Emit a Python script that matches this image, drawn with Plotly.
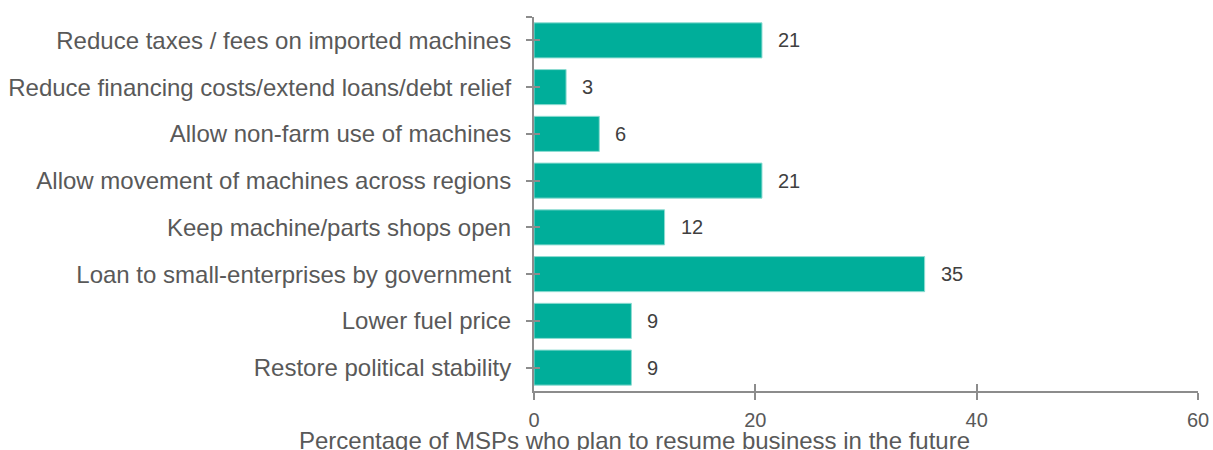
import plotly.graph_objects as go

# Policy measures, top to bottom, and the share of MSPs naming each (%)
categories = [
    "Reduce taxes / fees on imported machines",
    "Reduce financing costs/extend loans/debt relief",
    "Allow non-farm use of machines",
    "Allow movement of machines across regions",
    "Keep machine/parts shops open",
    "Loan to small-enterprises by government",
    "Lower fuel price",
    "Restore political stability",
]
percentages = [20.6, 2.9, 5.9, 20.6, 11.8, 35.3, 8.8, 8.8]
x_ticks = [0, 20, 40, 60]
x_title = "Percentage of MSPs who plan to resume business in the future"

BAR = "#00AE9A"
AXIS = "#8c8c8c"
TEXT = "#595959"
FONT = "Liberation Sans, Arial, sans-serif"

n = len(categories)
# first category drawn at the top
ypos = [n - 1 - i for i in range(n)]
ytickvals = ypos + [n - 0.5]
yticktext = categories + [""]

fig = go.Figure()
fig.add_trace(go.Bar(
    x=percentages, y=ypos, orientation="h", width=0.75,
    marker=dict(color=BAR, line=dict(color="#8fdcd2", width=1)),
    hoverinfo="x+y", showlegend=False,
))
# invisible trace that carries the inward half of the crossing ticks
fig.add_trace(go.Scatter(
    x=[0], y=[0], xaxis="x2", yaxis="y2", mode="markers",
    marker=dict(opacity=0), hoverinfo="skip", showlegend=False,
))

for v, yp in zip(percentages, ypos):
    fig.add_annotation(
        x=v, y=yp, text=f"{v:.0f}", showarrow=False, xanchor="left",
        xshift=14, font=dict(family=FONT, size=20, color="#404040"),
    )

# axis title, centred under the left part of the figure
fig.add_annotation(
    text=x_title, xref="paper", yref="paper", x=0.151, y=-0.092,
    xanchor="center", yanchor="top", showarrow=False,
    font=dict(family=FONT, size=24, color=TEXT),
)

fig.update_layout(
    width=1213, height=450,
    margin=dict(l=534, r=15, t=17, b=59),
    paper_bgcolor="white", plot_bgcolor="white",
    font=dict(family=FONT, color=TEXT),
    xaxis=dict(
        range=[0, 60], tickvals=x_ticks, ticks="outside", ticklen=7,
        tickwidth=2, tickcolor=AXIS, showline=True, linecolor=AXIS,
        linewidth=2, showgrid=False, zeroline=False, automargin=False,
        tickfont=dict(size=20, color=TEXT), ticklabelstandoff=3,
    ),
    xaxis2=dict(
        range=[0, 60], tickvals=x_ticks, ticks="inside", ticklen=7,
        tickwidth=2, tickcolor=AXIS, overlaying="x", anchor="y2",
        side="bottom", showticklabels=False, showline=False,
        showgrid=False, zeroline=False, automargin=False,
    ),
    yaxis=dict(
        range=[-0.5, n - 0.5], tickvals=ytickvals, ticktext=yticktext,
        ticks="outside", ticklen=6, tickwidth=2, tickcolor=AXIS,
        showline=True, linecolor=AXIS, linewidth=2, showgrid=False,
        zeroline=False, automargin=False,
        tickfont=dict(size=24, color=TEXT), ticklabelstandoff=10,
    ),
    yaxis2=dict(
        range=[-0.5, n - 0.5], tickvals=ytickvals, ticks="inside",
        ticklen=6, tickwidth=2, tickcolor=AXIS, overlaying="y",
        anchor="x2", side="left", showticklabels=False, showline=False,
        showgrid=False, zeroline=False, automargin=False,
    ),
)

fig.write_html("out.html")
